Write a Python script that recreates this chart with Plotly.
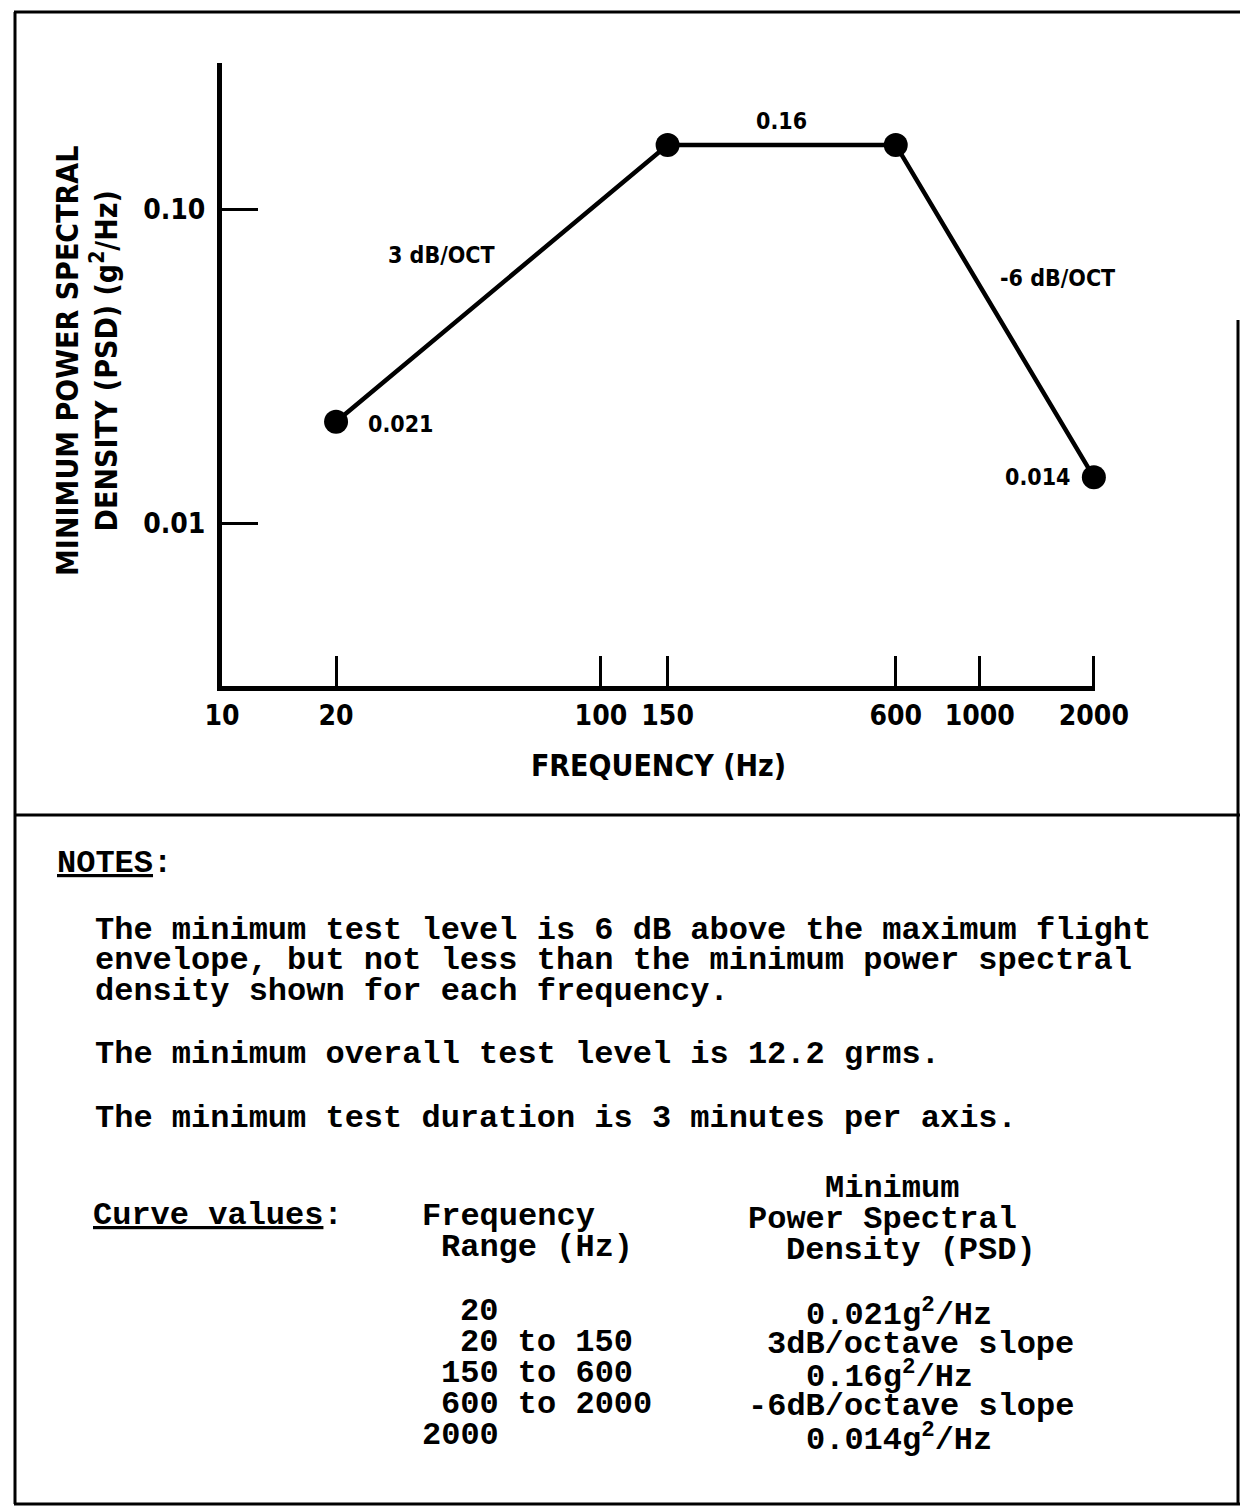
import numpy as np
import plotly.graph_objects as go

# ---------------- data ----------------
freq_hz = [20, 150, 600, 2000]
psd_g2_hz = [0.021, 0.16, 0.16, 0.014]
slope_db_oct = [3, 0, -6]          # slope of each segment between the points above

x_tick_vals = [10, 20, 100, 150, 600, 1000, 2000]
x_tick_text = ["10", "20", "100", "150", "600", "1000", "2000"]
y_tick_vals = [0.01, 0.1]
y_tick_text = ["0.01", "0.10"]

margin_above_flight_db = 6
min_overall_grms = 12.2
min_duration_min = 3

# ---------------- page geometry (pixels) ----------------
W, H = 1242, 1509
PL, PR, PT, PB = 222, 1095, 63, 686     # plot area edges
PW, PH = PR - PL, PB - PT


def px(x):
    return (x - PL) / PW


def py(y):
    return (PB - y) / PH


SANS = "DejaVu Sans Condensed, Liberation Sans, Arial, sans-serif"
MONO = "Liberation Mono, Courier New, monospace"
INK = "black"

fig = go.Figure()
fig.add_trace(go.Scatter(
    x=freq_hz, y=psd_g2_hz, mode="lines+markers",
    line=dict(color=INK, width=4.5),
    marker=dict(color=INK, size=24),
    cliponaxis=False,
    hoverinfo="x+y", showlegend=False,
))

ann = []
lf = np.log10(freq_hz)
lp = np.log10(psd_g2_hz)
LBL = dict(family=SANS, size=23, color=INK, weight="bold")

# point labels (first and last)
ann.append(dict(x=lf[0], y=lp[0], xref="x", yref="y", text=f"{psd_g2_hz[0]}",
                showarrow=False, xanchor="left", yanchor="middle", xshift=30, yshift=-2,
                font=LBL))
ann.append(dict(x=lf[-1], y=lp[-1], xref="x", yref="y", text=f"{psd_g2_hz[-1]}",
                showarrow=False, xanchor="right", yanchor="middle", xshift=-22, yshift=0,
                font=LBL))
# segment labels
seg_shift = {3: (-60, 28), 0: (0, 24), -6: (63, 33)}
for i, s in enumerate(slope_db_oct):
    mx = (lf[i] + lf[i + 1]) / 2
    my = (lp[i] + lp[i + 1]) / 2
    txt = f"{psd_g2_hz[i]:.2f}" if s == 0 else f"{s} dB/OCT"
    dx, dy = seg_shift[s]
    ann.append(dict(x=mx, y=my, xref="x", yref="y", text=txt, showarrow=False,
                    xanchor="center", yanchor="middle", xshift=dx, yshift=dy,
                    font=LBL))

# y axis title (two lines, rotated)
ann.append(dict(x=px(87), y=py(361), xref="paper", yref="paper",
                text="MINIMUM POWER SPECTRAL<br>DENSITY (PSD) (g<sup>2</sup>/Hz)",
                textangle=-90, showarrow=False, xanchor="center", yanchor="middle",
                font=dict(family=SANS, size=30, color=INK, weight="bold")))

# ---------------- notes ----------------
CW = 19.2   # monospace character width at size 32


def note(x, y, text):
    ann.append(dict(x=px(x), y=py(y + 2), xref="paper", yref="paper", text=text,
                    showarrow=False, xanchor="left", yanchor="middle",
                    font=dict(family=MONO, size=32, color=INK)))


note(55, 862, "<u>NOTES</u>:")
para1 = [
    f"The minimum test level is {margin_above_flight_db} dB above the maximum flight",
    "envelope, but not less than the minimum power spectral",
    "density shown for each frequency.",
]
for k, line in enumerate(para1):
    note(93, 928 + k * 30.5, line)
note(93, 1052, f"The minimum overall test level is {min_overall_grms} grms.")
note(93, 1116, f"The minimum test duration is {min_duration_min} minutes per axis.")

note(91, 1213, "<u>Curve values</u>:")
FX, SX = 420, 746     # column bases
note(FX, 1214, "Frequency")
note(FX + 1 * CW, 1245, "Range (Hz)")
note(SX + 4 * CW, 1186, "Minimum")
note(SX, 1217, "Power Spectral")
note(SX + 2 * CW, 1248, "Density (PSD)")

rows_f, rows_p = [], []
for i in range(len(freq_hz)):
    if i == 0:
        rows_f.append(f"{freq_hz[0]}")
        rows_p.append(f"{psd_g2_hz[0]}g<sup>2</sup>/Hz")
    if i < len(slope_db_oct):
        rows_f.append(f"{freq_hz[i]} to {freq_hz[i + 1]}")
        s = slope_db_oct[i]
        rows_p.append(f"{psd_g2_hz[i]}g<sup>2</sup>/Hz" if s == 0 else f"{s}dB/octave slope")
    if i == len(freq_hz) - 1:
        rows_f.append(f"{freq_hz[-1]}")
        rows_p.append(f"{psd_g2_hz[-1]}g<sup>2</sup>/Hz")

f_indent = [2, 2, 1, 1, 0]
p_indent = [3, 1, 3, 0, 3]
for r, (tf, tp) in enumerate(zip(rows_f, rows_p)):
    yy = 1309 + r * 31.2
    note(FX + f_indent[r] * CW, yy, tf)
    note(SX + p_indent[r] * CW, yy + 2, tp)

# ---------------- frame lines ----------------
shapes = []


def hline(x0, x1, y, w=3):
    shapes.append(dict(type="line", xref="paper", yref="paper", x0=px(x0), x1=px(x1),
                       y0=py(y), y1=py(y), line=dict(color=INK, width=w)))


def vline(x, y0, y1, w=3):
    shapes.append(dict(type="line", xref="paper", yref="paper", x0=px(x), x1=px(x),
                       y0=py(y0), y1=py(y1), line=dict(color=INK, width=w)))


hline(14, 1240, 12)
hline(14, 1240, 815)
hline(14, 1240, 1504)
vline(15, 12, 1504)
vline(1238, 320, 1504)

AX = dict(family=SANS, size=30, color=INK, weight="bold")
TK = dict(family=SANS, size=28, color=INK, weight="bold")
fig.update_layout(
    width=W, height=H,
    margin=dict(l=PL, r=W - PR, t=PT, b=H - PB),
    paper_bgcolor="white", plot_bgcolor="white",
    font=AX,
    annotations=ann, shapes=shapes,
    xaxis=dict(type="log", range=[np.log10(10), np.log10(2000) + 0.003],
               tickvals=x_tick_vals, ticktext=x_tick_text, tickfont=TK,
               ticks="inside", ticklen=30, tickwidth=3, tickcolor=INK,
               ticklabelstandoff=0,
               showline=True, linewidth=5, linecolor=INK,
               showgrid=False, zeroline=False,
               title=dict(text="FREQUENCY (Hz)", standoff=26, font=AX)),
    yaxis=dict(type="log", range=[-2.519, -0.535],
               tickvals=y_tick_vals, ticktext=y_tick_text, tickfont=TK,
               ticks="inside", ticklen=36, tickwidth=3, tickcolor=INK,
               ticklabelstandoff=6,
               showline=True, linewidth=5, linecolor=INK,
               showgrid=False, zeroline=False),
)

fig.write_html("out.html", config={"displayModeBar": False},
               post_script="document.body.style.margin='0';document.body.style.overflow='hidden';")
